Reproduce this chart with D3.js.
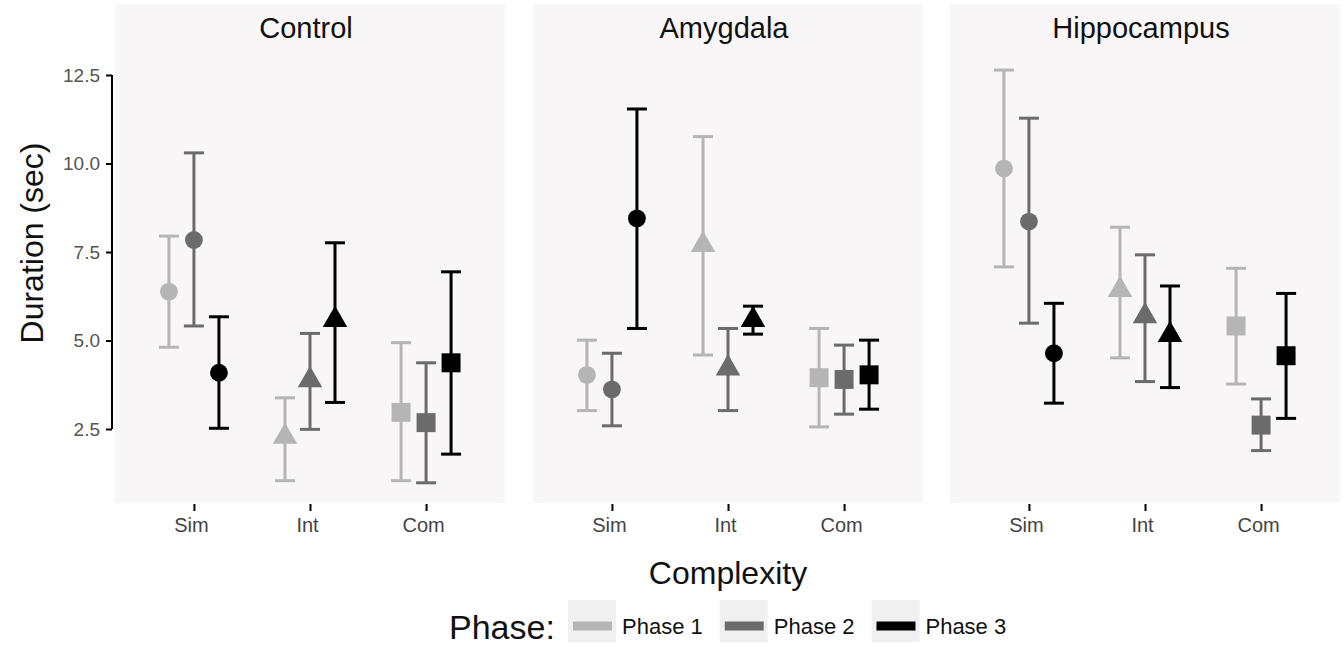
<!DOCTYPE html>
<html>
<head>
<meta charset="utf-8">
<script src="https://cdn.jsdelivr.net/npm/d3@7"></script>
<style>
  body { margin: 0; background: #fff; }
  text { font-family: "Liberation Sans", Arial, sans-serif; }
</style>
</head>
<body>
<div id="chart"></div>
<script>
// facets, categories and legend
const regions = ['Control', 'Amygdala', 'Hippocampus'];
const complexity = ['Sim', 'Int', 'Com'];
const phases = ['Phase 1', 'Phase 2', 'Phase 3'];
const yTicks = [2.5, 5.0, 7.5, 10.0, 12.5];

// rows = phase 1..3, columns = Sim, Int, Com
const meanControl = [[6.38, 2.28, 2.97], [7.84, 3.88, 2.68], [4.09, 5.58, 4.37]];
const lowControl  = [[4.81, 1.04, 1.04], [5.41, 2.49, 0.98], [2.52, 3.25, 1.79]];
const highControl = [[7.95, 3.38, 4.94], [10.30, 5.20, 4.37], [5.67, 7.76, 6.94]];

const meanAmygdala = [[4.03, 7.70, 3.95], [3.62, 4.21, 3.90], [8.45, 5.58, 4.03]];
const lowAmygdala  = [[3.02, 4.59, 2.56], [2.59, 3.02, 2.92], [5.34, 5.18, 3.06]];
const highAmygdala = [[5.01, 10.76, 5.34], [4.64, 5.34, 4.87], [11.54, 5.97, 5.01]];

const meanHippocampus = [[9.86, 6.43, 5.41], [8.36, 5.69, 2.61], [4.64, 5.16, 4.57]];
const lowHippocampus  = [[7.08, 4.51, 3.77], [5.49, 3.84, 1.89], [3.23, 3.67, 2.80]];
const highHippocampus = [[12.64, 8.20, 7.04], [11.28, 7.42, 3.35], [6.05, 6.54, 6.33]];

const means = [meanControl, meanAmygdala, meanHippocampus];
const lows = [lowControl, lowAmygdala, lowHippocampus];
const highs = [highControl, highAmygdala, highHippocampus];

const width = 1344, height = 647;
const panelX = [115, 533, 950];
const panelW = 390;
const panelTop = 4, panelBottom = 503;
const colors = ['#b5b5b5', '#6b6b6b', '#000000'];
const shapes = [d3.symbolCircle, d3.symbolTriangle, d3.symbolSquare];
const shapeSize = [250, 260, 360];

const svg = d3.select('#chart').append('svg')
    .attr('width', width)
    .attr('height', height);

const y = d3.scaleLinear().domain([2.5, 12.5]).range([429, 75]);
const dodge = d3.scalePoint().domain(phases).range([-25, 25]);

// rows for drawing
const rows = [];
regions.forEach((r, ri) => {
    phases.forEach((p, pi) => {
        complexity.forEach((c, ci) => {
            rows.push({ region: r, ri, phase: p, pi, comp: c, ci,
                mean: means[ri][pi][ci], low: lows[ri][pi][ci], high: highs[ri][pi][ci] });
        });
    });
});

regions.forEach((r, ri) => {
    const x0 = panelX[ri];
    const x = d3.scalePoint().domain(complexity).range([x0, x0 + panelW]).padding(0.68);
    const g = svg.append('g');

    g.append('rect')
        .attr('x', x0).attr('y', panelTop)
        .attr('width', panelW).attr('height', panelBottom - panelTop)
        .attr('fill', '#f8f6f7');

    g.append('text')
        .attr('x', x0 + panelW / 2 - 4).attr('y', 38)
        .attr('text-anchor', 'middle')
        .attr('font-size', 29)
        .attr('fill', '#111')
        .text(r);

    // x axis: ticks only
    const xAxis = g.append('g')
        .attr('transform', `translate(0,${panelBottom + 1})`)
        .call(d3.axisBottom(x).tickSize(7).tickPadding(7));
    xAxis.select('.domain').remove();
    xAxis.selectAll('line').attr('stroke', '#000').attr('stroke-width', 2);
    xAxis.selectAll('text').attr('font-size', 20).attr('fill', '#444')
        .attr('dx', -3)
        .style('font-family', '"Liberation Sans", Arial, sans-serif');

    const data = rows.filter(d => d.ri === ri);
    const cx = d => x(d.comp) + dodge(d.phase);

    // error bars
    const eb = g.selectAll('.eb').data(data).enter().append('g')
        .attr('stroke', d => colors[d.pi])
        .attr('stroke-width', 3)
        .attr('fill', 'none');
    eb.append('line')
        .attr('x1', cx).attr('x2', cx)
        .attr('y1', d => y(d.low)).attr('y2', d => y(d.high));
    eb.append('line')
        .attr('x1', d => cx(d) - 10).attr('x2', d => cx(d) + 10)
        .attr('y1', d => y(d.low)).attr('y2', d => y(d.low));
    eb.append('line')
        .attr('x1', d => cx(d) - 10).attr('x2', d => cx(d) + 10)
        .attr('y1', d => y(d.high)).attr('y2', d => y(d.high));

    // points
    g.selectAll('.pt').data(data).enter().append('path')
        .attr('transform', d => `translate(${cx(d)},${y(d.mean)})`)
        .attr('d', d => d3.symbol().type(shapes[d.ci]).size(shapeSize[d.ci])())
        .attr('fill', d => colors[d.pi]);
});

// y axis on first panel
const yAxis = svg.append('g')
    .attr('transform', 'translate(112,0)')
    .call(d3.axisLeft(y).tickValues(yTicks).tickFormat(d3.format('.1f')).tickSize(6).tickPadding(6));
yAxis.select('.domain').attr('d', `M0,${y(12.5)}V${y(2.5)}`).attr('stroke', '#000').attr('stroke-width', 2);
yAxis.selectAll('line').attr('stroke', '#000').attr('stroke-width', 2);
yAxis.selectAll('text').attr('font-size', 19).attr('fill', '#555')
    .style('font-family', '"Liberation Sans", Arial, sans-serif');

// axis titles
svg.append('text')
    .attr('transform', 'translate(43,243) rotate(-90)')
    .attr('text-anchor', 'middle')
    .attr('font-size', 32)
    .attr('fill', '#111')
    .text('Duration (sec)');

svg.append('text')
    .attr('x', 728).attr('y', 584)
    .attr('text-anchor', 'middle')
    .attr('font-size', 32)
    .attr('fill', '#111')
    .text('Complexity');

// legend
const legend = svg.append('g');
legend.append('text')
    .attr('x', 449).attr('y', 639)
    .attr('font-size', 34)
    .attr('fill', '#111')
    .text('Phase:');

let lx = 568;
phases.forEach((p, i) => {
    legend.append('rect')
        .attr('x', lx).attr('y', 600).attr('width', 48).attr('height', 42)
        .attr('fill', '#f0f0f0');
    legend.append('line')
        .attr('x1', lx + 5).attr('x2', lx + 44)
        .attr('y1', 626).attr('y2', 626)
        .attr('stroke', colors[i]).attr('stroke-width', 9);
    const t = legend.append('text')
        .attr('x', lx + 54).attr('y', 634)
        .attr('font-size', 22)
        .attr('fill', '#111')
        .text(p);
    lx += 54 + t.node().getComputedTextLength() + 17;
});
</script>
</body>
</html>
